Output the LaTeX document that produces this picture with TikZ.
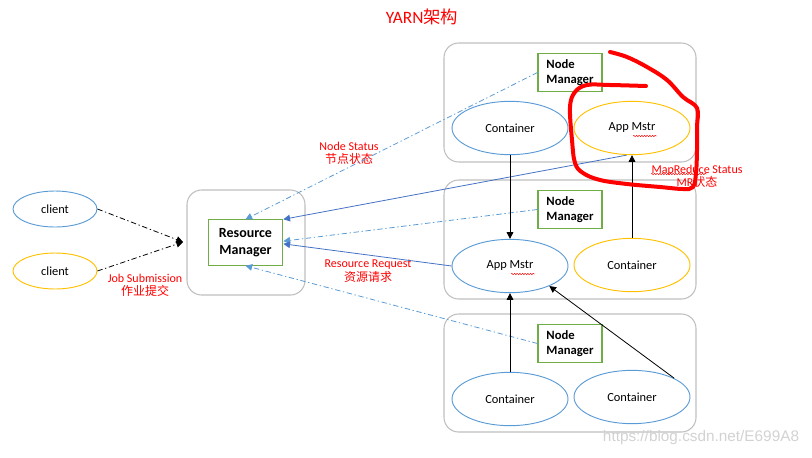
\documentclass[tikz,border=0pt]{standalone}
\usepackage{fontspec}
\setmainfont{Carlito}
\newfontfamily\cjk{Noto Sans CJK SC}
\newfontfamily\wmfont{Liberation Sans}
\usetikzlibrary{arrows.meta,shapes.geometric,decorations.pathmorphing}
\definecolor{boxgray}{HTML}{BFBFBF}
\definecolor{nmgreen}{HTML}{70AD47}
\definecolor{ellblue}{HTML}{5B9BD5}
\definecolor{ellyellow}{HTML}{FFC000}
\definecolor{arrblue}{HTML}{4472C4}
\definecolor{labred}{HTML}{FF0000}
\tikzset{
  host/.style={draw=boxgray, line width=0.8pt, rounded corners=11pt},
  nmbox/.style={draw=nmgreen, line width=0.8pt, minimum width=48pt, minimum height=29pt,
    align=left, font=\fontsize{9.5}{11.5}\selectfont\bfseries},
  cont/.style={ellipse, draw=#1, line width=0.7pt, minimum width=87pt, minimum height=40pt,
    inner sep=0pt, font=\fontsize{9.3}{11}\selectfont},
  redlab/.style={text=labred, align=center, font=\fontsize{9}{11}\selectfont},
  dashdotted line/.style={dash pattern=on 4pt off 2pt on 1pt off 2pt, line width=0.6pt},
  spellmark/.style={labred, line width=0.35pt, decorate,
    decoration={snake, amplitude=0.5pt, segment length=2pt}},
}
\begin{document}
\begin{tikzpicture}[x=0.75pt,y=-0.75pt]
  \useasboundingbox (0,0) rectangle (812,457);
  % title
  \node[text=labred, font=\fontsize{13}{15}\selectfont] (title) at (422,17) {YARN{\cjk 架构}};
  % hosts
  \node[host, minimum width=88.5pt, minimum height=78.75pt] (rmhost) at (246,242.5) {};
  \node[host, minimum width=189pt, minimum height=89.25pt] (host1) at (570,102.5) {};
  \node[host, minimum width=189pt, minimum height=89.25pt] (host2) at (570,239.5) {};
  \node[host, minimum width=189pt, minimum height=88.5pt] (host3) at (570,373) {};
  % clients and resource manager
  \node[cont=ellblue, minimum width=63pt, minimum height=27pt] (client1) at (55,209) {client};
  \node[cont=ellyellow, minimum width=63pt, minimum height=27pt] (client2) at (55,271) {client};
  \node[draw=nmgreen, line width=0.8pt, minimum width=56pt, minimum height=34pt, align=center,
    inner sep=1pt, font=\fontsize{10.5}{13}\selectfont\bfseries] (rm) at (245.5,242.5) {Resource\\Manager};
  \coordinate (join) at (183,242);
  % node managers
  \node[nmbox] (nm1) at (570,72.5) {Node\\Manager};
  \node[nmbox] (nm2) at (570,209.5) {Node\\Manager};
  \node[nmbox] (nm3) at (570,343.5) {Node\\Manager};
  % containers
  \node[cont=ellblue] (con1) at (510,128) {Container};
  \node[cont=ellyellow] (am1) at (632,128) {App Mstr};
  \node[cont=ellblue] (am2) at (510,266) {App Mstr};
  \node[cont=ellyellow] (con2) at (632,265) {Container};
  \node[cont=ellblue] (con3) at (510,399) {Container};
  \node[cont=ellblue] (con4) at (632,397) {Container};
  % labels
  \node[redlab] (jobsub) at (145,285) {Job Submission\\[-1pt]{\cjk 作业提交}};
  \node[redlab] (nodestat) at (349,153) {Node Status\\[-1pt]{\cjk 节点状态}};
  \node[redlab] (resreq) at (368,271) {Resource Request\\[-1pt]{\cjk 资源请求}};
  \node[redlab] (mrstat) at (697,176) {MapReduce Status\\[-1pt]MR{\cjk 状态}};
  \node[text=gray!35, font=\wmfont\fontsize{11.5}{13}\selectfont] (mark) at (701,438) {https://blog.csdn.net/E699A8};
  % spell-check marks
  \draw[spellmark] (633,136) -- (657,136);
  \draw[spellmark] (511,274) -- (535,274);
  \draw[spellmark] (651,174) -- (707,174);
  % connectors
  \begin{scope}[-{Triangle[length=5pt,width=5pt]}]
    \draw[dashdotted line] (client1.east) to (join);
    \draw[dashdotted line] (client2.east) to (join);
    \draw[dashdotted line, ellblue] (nm1.west) to (rm.north);
    \draw[dashdotted line, ellblue] (nm2.west) to ([yshift=1pt]rm.east);
    \draw[dashdotted line, ellblue] (nm3.west) to (rm.south);
    \draw[arrblue, line width=0.6pt] ([xshift=-4pt]am1.south) to (rm.north east);
    \draw[arrblue, line width=0.6pt] (am2.west) to ([yshift=-1pt]rm.east);
    \draw[line width=0.6pt] (con1.south) to (am2.north);
    \draw[line width=0.6pt] (con2.north) to (am1.south);
    \draw[line width=0.6pt] (con3.north) to (am2.south);
    \draw[line width=0.6pt] (con4.24) to (am2.-27);
  \end{scope}
  % hand-drawn ring
  \draw[labred, line width=3pt, line cap=round, line join=round] plot[smooth, tension=0.6] coordinates {
    (610,52) (627,57) (647,67) (667,80) (683,97) (697,108) (697,127) (697,150) (696,173)
    (693,187) (683,189) (660,187) (627,184) (600,180) (583,173) (575,163) (572,140)
    (570,107) (575,92) (587,85) (610,85) (646,86)};
\end{tikzpicture}
\end{document}
